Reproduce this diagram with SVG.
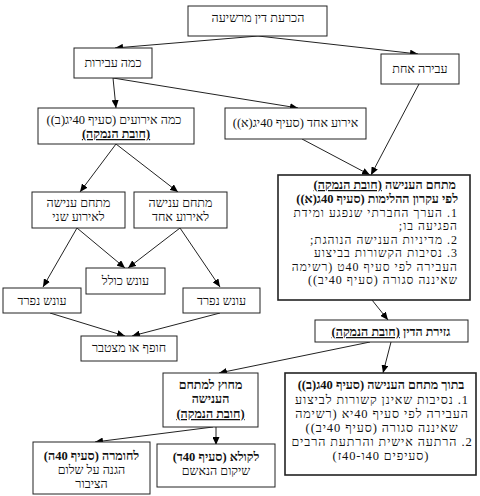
<svg xmlns="http://www.w3.org/2000/svg" width="480" height="496" viewBox="0 0 480 496">
<defs>
<marker id="ah" markerUnits="userSpaceOnUse" markerWidth="8" markerHeight="7" refX="8" refY="3.5" orient="auto">
<path d="M0,0 L8,3.5 L0,7 z" fill="#000"/>
</marker>
<style>
.box{fill:#fff;stroke:#222;stroke-width:1}
.thick{stroke-width:1.6}
text{font-family:"Liberation Serif","DejaVu Serif",serif;font-size:12.5px;fill:#111;direction:rtl}
.c{text-anchor:middle}
.r{text-anchor:start}
.b{font-weight:bold}
.u{text-decoration:underline}
.L{font-size:12px;letter-spacing:1px}
.M{letter-spacing:0.9px}
#conn line{stroke:#222;stroke-width:1;marker-end:url(#ah)}
</style>
</defs>
<rect width="480" height="496" fill="#fff"/>
<g id="conn">
<line x1="258" y1="36" x2="115" y2="48"/>
<line x1="258" y1="36" x2="418" y2="54"/>
<line x1="113" y1="78" x2="116" y2="108"/>
<line x1="113" y1="78" x2="298" y2="108"/>
<line x1="419" y1="84" x2="371" y2="175"/>
<line x1="302" y1="139" x2="370" y2="175"/>
<line x1="116" y1="144" x2="80" y2="192"/>
<line x1="116" y1="144" x2="178" y2="192"/>
<line x1="77" y1="228" x2="43" y2="287"/>
<line x1="77" y1="228" x2="125" y2="268"/>
<line x1="180" y1="228" x2="128" y2="268"/>
<line x1="180" y1="228" x2="220" y2="287"/>
<line x1="50" y1="313" x2="125" y2="336"/>
<line x1="220" y1="313" x2="132" y2="336"/>
<line x1="372" y1="300" x2="388" y2="320"/>
<line x1="391" y1="342" x2="383" y2="373"/>
<line x1="370" y1="342" x2="219" y2="373"/>
<line x1="213" y1="427" x2="95" y2="442"/>
<line x1="216" y1="427" x2="216" y2="445"/>
</g>
<g id="n1"><rect class="box" x="188" y="6" width="139" height="30"/><text class="c" x="258" y="22">הכרעת דין מרשיעה</text></g>
<g id="n2"><rect class="box" x="74" y="48" width="78" height="30"/><text class="c" x="113" y="67">כמה עבירות</text></g>
<g id="n3"><rect class="box" x="381" y="54" width="78" height="30"/><text class="c" x="420" y="73">עבירה אחת</text></g>
<g id="n4"><rect class="box" x="38" y="108" width="156" height="36"/><text class="c" x="114" y="124">כמה אירועים (סעיף 40יג(ב))</text><text class="c b u" x="116" y="138">(חובת הנמקה)</text></g>
<g id="n5"><rect class="box" x="225" y="108" width="141" height="31"/><text class="c" x="295.5" y="127">אירוע אחד (סעיף 40יג(א))</text></g>
<g id="n6"><rect class="box" x="32" y="192" width="93" height="36"/><text class="c" x="78.5" y="207">מתחם ענישה</text><text class="c" x="78.5" y="221">לאירוע שני</text></g>
<g id="n7"><rect class="box" x="134" y="192" width="93" height="36"/><text class="c" x="180.5" y="207">מתחם ענישה</text><text class="c" x="180.5" y="221">לאירוע אחד</text></g>
<g id="n8"><rect class="box" x="86" y="268" width="79" height="26"/><text class="c" x="125.5" y="285">עונש כולל</text></g>
<g id="n9"><rect class="box" x="3" y="288" width="78" height="25"/><text class="c" x="42" y="305">עונש נפרד</text></g>
<g id="n10"><rect class="box" x="183" y="288" width="77" height="25"/><text class="c" x="221.5" y="305">עונש נפרד</text></g>
<g id="n11"><rect class="box" x="81" y="336" width="96" height="25"/><text class="c" x="129" y="352">חופף או מצטבר</text></g>
<g id="n12"><rect class="box thick" x="278" y="175" width="192" height="125"/>
<text class="r b" x="456" y="189">מתחם הענישה <tspan class="u">(חובת הנמקה)</tspan></text>
<text class="r b" x="458" y="203">לפי עקרון ההלימות (סעיף 40ג(א))</text>
<text class="r L" x="458" y="216.5">1. הערך החברתי שנפגע ומידת</text>
<text class="r L" x="458" y="230">הפגיעה בו;</text>
<text class="r L" x="458" y="243.5">2. מדיניות הענישה הנוהגת;</text>
<text class="r L" x="458" y="257">3. נסיבות הקשורות בביצוע</text>
<text class="r L" x="458" y="270.5">העבירה לפי סעיף 40ט (רשימה</text>
<text class="r L" x="458" y="284">שאיננה סגורה (סעיף 40יב))</text>
</g>
<g id="n13"><rect class="box" x="315" y="320" width="153" height="22"/><text class="c b" x="391" y="336">גזירת הדין <tspan class="u">(חובת הנמקה)</tspan></text></g>
<g id="n14"><rect class="box thick" x="285" y="373" width="191" height="102"/>
<text class="c b" x="381" y="389">בתוך מתחם הענישה (סעיף 40ג(ב))</text>
<text class="c M" x="382" y="404">1. נסיבות שאינן קשורות לביצוע</text>
<text class="c M" x="382" y="418">העבירה לפי סעיף 40יא (רשימה</text>
<text class="c M" x="382" y="432">שאיננה סגורה (סעיף 40יב))</text>
<text class="c M" x="382" y="446">2. הרתעה אישית והרתעת הרבים</text>
<text class="c M" x="381" y="460">(סעיפים 40ו-40ז)</text>
</g>
<g id="n15"><rect class="box" x="163" y="373" width="95" height="54"/>
<text class="c b" x="210.5" y="389">מחוץ למתחם</text>
<text class="c b" x="210.5" y="403">הענישה</text>
<text class="c b u" x="210.5" y="418">(חובת הנמקה)</text>
</g>
<g id="n16"><rect class="box" x="157" y="444" width="118" height="43"/>
<text class="c b" x="216" y="461">לקולא (סעיף 40ד)</text>
<text class="c" x="216" y="475">שיקום הנאשם</text>
</g>
<g id="n17"><rect class="box" x="33" y="442" width="117" height="52"/>
<text class="c b" x="91.5" y="460">לחומרה (סעיף 40ה)</text>
<text class="c" x="91.5" y="474">הגנה על שלום</text>
<text class="c" x="91.5" y="488">הציבור</text>
</g>
</svg>
